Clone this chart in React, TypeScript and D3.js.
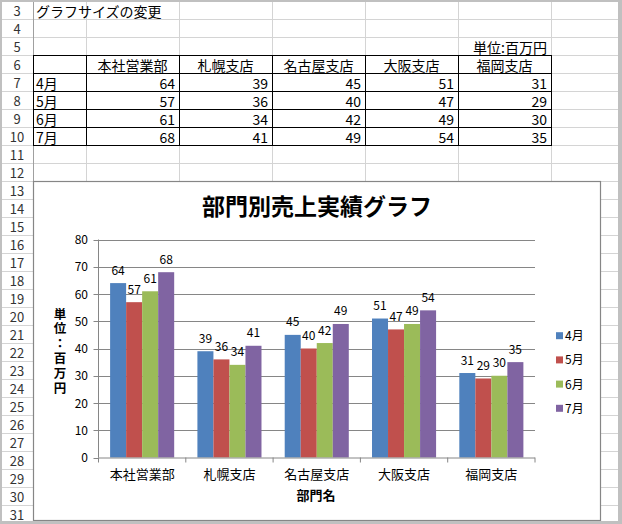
import React from 'react';
import * as d3 from 'd3';

const sheetTitle = 'グラフサイズの変更';
const unitLabel = '単位:百万円';
const chartTitle = '部門別売上実績グラフ';
const xAxisTitle = '部門名';
const yAxisTitle = ['単', '位', '：', '百', '万', '円'];
const categories = ['本社営業部', '札幌支店', '名古屋支店', '大阪支店', '福岡支店'];
const seriesNames = ['4月', '5月', '6月', '7月'];
const apr = [64, 39, 45, 51, 31];
const may = [57, 36, 40, 47, 29];
const jun = [61, 34, 42, 49, 30];
const jul = [68, 41, 49, 54, 35];
const seriesValues = [apr, may, jun, jul];
const colors = ['#4F81BD', '#C0504D', '#9BBB59', '#8064A2'];
const yTicks = [0, 10, 20, 30, 40, 50, 60, 70, 80];
const rowNumbers = d3.range(3, 32);

const W = 622;
const H = 524;
const FONT = '"Noto Sans CJK JP", "Noto Sans", sans-serif';

// spreadsheet geometry
const rowH = 18;
const rowTop = (n: number) => 1 + rowH * (n - 3);
const colEdges = [33, 86, 179, 272, 365, 458, 551, 644];

// chart geometry
const chart = { x0: 33.5, y0: 181.5, x1: 600.5, y1: 520.5 };
const plot = { left: 98.5, right: 535, top: 239.5, bottom: 457.5 };

export default function App() {
  const x0 = d3.scaleBand<string>().domain(categories).range([plot.left, plot.right]).paddingInner(0).paddingOuter(0);
  const bw = x0.bandwidth();
  const pad = bw * 0.133;
  const x1 = d3.scaleBand<string>().domain(seriesNames).range([pad, bw - pad]).padding(0);
  const y = d3.scaleLinear().domain([0, 80]).range([plot.bottom, plot.top]);

  const tableRows = [6, 7, 8, 9, 10];

  return (
    <div style={{ position: 'absolute', left: 0, top: 0, width: W, height: H }}>
      <svg width={W} height={H} style={{ display: 'block', fontFamily: FONT }}>
        <rect x={0} y={0} width={W} height={H} fill="#ffffff" />
        {/* sheet gridlines */}
        {rowNumbers.map((n) => (
          <line key={'h' + n} x1={2} x2={618} y1={rowTop(n) + rowH + 0.5} y2={rowTop(n) + rowH + 0.5} stroke="#d4d4d4" strokeWidth={1} />
        ))}
        {colEdges.slice(1).map((c, i) => (
          <line key={'v' + i} x1={c + 0.5} x2={c + 0.5} y1={2} y2={521} stroke="#d4d4d4" strokeWidth={1} />
        ))}
        <line x1={33.5} x2={33.5} y1={0} y2={524} stroke="#a0a0a0" />
        {rowNumbers.map((n) => (
          <text key={'rn' + n} x={17} y={rowTop(n) + 15} textAnchor="middle" fontSize={13} fill="#333">
            {n}
          </text>
        ))}

        {/* sheet text */}
        <text x={36} y={rowTop(3) + 16} fontSize={14} fill="#000">{sheetTitle}</text>
        <text x={colEdges[6] - 4} y={rowTop(5) + 15.5} fontSize={14} textAnchor="end" fill="#000">{unitLabel}</text>

        {/* table borders */}
        {tableRows.map((n) => (
          <line key={'tb' + n} x1={33} x2={552} y1={rowTop(n) + 0.5} y2={rowTop(n) + 0.5} stroke="#000" />
        ))}
        <line x1={33} x2={552} y1={rowTop(11) + 0.5} y2={rowTop(11) + 0.5} stroke="#000" />
        {colEdges.slice(0, 7).map((c, i) => (
          <line key={'tv' + i} x1={c + 0.5} x2={c + 0.5} y1={rowTop(6)} y2={rowTop(11) + 1} stroke="#000" />
        ))}
        {categories.map((c, i) => (
          <text key={'th' + i} x={(colEdges[i + 1] + colEdges[i + 2]) / 2} y={rowTop(6) + 15.5} fontSize={14} textAnchor="middle" fill="#000">
            {c}
          </text>
        ))}
        {seriesNames.map((s, si) => (
          <g key={'tr' + si}>
            <text x={36} y={rowTop(7 + si) + 15.5} fontSize={14} fill="#000">{s}</text>
            {seriesValues[si].map((v, ci) => (
              <text key={ci} x={colEdges[ci + 2] - 4} y={rowTop(7 + si) + 15.5} fontSize={14} textAnchor="end" fill="#000">
                {v}
              </text>
            ))}
          </g>
        ))}

        {/* chart area */}
        <rect x={chart.x0} y={chart.y0} width={chart.x1 - chart.x0} height={chart.y1 - chart.y0} fill="#fff" stroke="#868686" strokeWidth={1.2} />
        <text x={317} y={215} fontSize={23} fontWeight="bold" textAnchor="middle" fill="#000">{chartTitle}</text>

        {/* gridlines */}
        {yTicks.map((t) => (
          <g key={'g' + t}>
            {t > 0 && <line x1={plot.left} x2={plot.right} y1={Math.round(y(t)) + 0.5} y2={Math.round(y(t)) + 0.5} stroke="#868686" />}
            <line x1={plot.left - 5} x2={plot.left} y1={Math.round(y(t)) + 0.5} y2={Math.round(y(t)) + 0.5} stroke="#868686" />
            <text x={88} y={y(t) + 4.5} fontSize={12} textAnchor="end" fill="#000">{t}</text>
          </g>
        ))}

        {/* bars */}
        {seriesNames.map((s, si) => (
          <g key={'s' + si} fill={colors[si]}>
            {categories.map((c, ci) => {
              const v = seriesValues[si][ci];
              const bx = (x0(c) as number) + (x1(s) as number);
              return <rect key={ci} x={bx} y={y(v)} width={x1.bandwidth()} height={y(0) - y(v)} />;
            })}
          </g>
        ))}
        {seriesNames.map((s, si) => (
          <g key={'l' + si}>
            {categories.map((c, ci) => {
              const v = seriesValues[si][ci];
              const bx = (x0(c) as number) + (x1(s) as number) + x1.bandwidth() / 2;
              return (
                <text key={ci} x={bx} y={y(v) - 8.5} fontSize={12} textAnchor="middle" fill="#000">
                  {v}
                </text>
              );
            })}
          </g>
        ))}

        {/* axes */}
        <line x1={plot.left} x2={plot.left} y1={plot.top} y2={plot.bottom} stroke="#868686" />
        <line x1={plot.left} x2={plot.right} y1={plot.bottom + 0.5} y2={plot.bottom + 0.5} stroke="#868686" />
        {[...categories.map((c) => x0(c) as number), plot.right].map((xv, i) => (
          <line key={'xt' + i} x1={xv} x2={xv} y1={plot.bottom} y2={plot.bottom + 5} stroke="#868686" />
        ))}
        {categories.map((c) => (
          <text key={'xl' + c} x={(x0(c) as number) + bw / 2} y={479} fontSize={13} textAnchor="middle" fill="#000">
            {c}
          </text>
        ))}
        <text x={316} y={500} fontSize={13} fontWeight="bold" textAnchor="middle" fill="#000">{xAxisTitle}</text>
        <text x={60} y={318.5} fontSize={12.5} fontWeight="bold" textAnchor="middle" fill="#000">
          {yAxisTitle.map((ch, i) => (
            <tspan key={i} x={60} dy={i === 0 ? 0 : 14.8}>{ch}</tspan>
          ))}
        </text>

        {/* legend */}
        {seriesNames.map((s, si) => (
          <g key={'lg' + si} transform={`translate(556, ${335.7 + si * 24.2})`}>
            <rect x={0} y={-3.5} width={7} height={7} fill={colors[si]} />
            <text x={9} y={4.5} fontSize={12} fill="#000">{s}</text>
          </g>
        ))}

        {/* window frame */}
        <rect x={0} y={0} width={W} height={2} fill="#c0c0c0" />
        <rect x={0} y={0} width={2} height={H} fill="#c0c0c0" />
        <rect x={618} y={0} width={4} height={H} fill="#c0c0c0" />
        <rect x={0} y={521} width={W} height={3} fill="#c0c0c0" />
      </svg>
    </div>
  );
}
